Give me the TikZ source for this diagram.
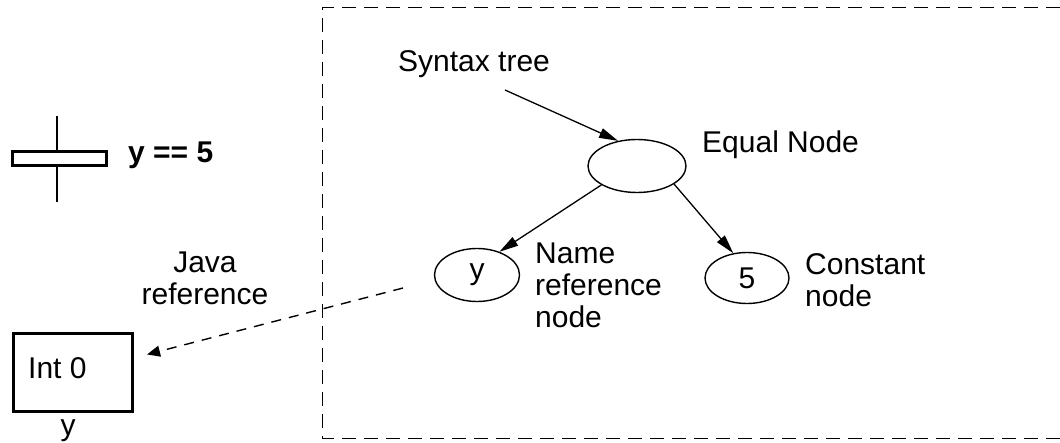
\documentclass[tikz,border=0pt]{standalone}
\usepackage{fontspec}
\setmainfont{Liberation Sans}
\usetikzlibrary{arrows.meta,shapes.geometric}

\tikzset{
  txt/.style={inner sep=0pt, font=\fontsize{30}{32}\selectfont},
  treenode/.style={draw, ellipse, line width=1.4pt, inner sep=0pt,
                   font=\fontsize{30}{32}\selectfont},
  heavybox/.style={draw, rectangle, line width=3pt, inner sep=0pt},
  link/.style={line width=1.3pt, -{Triangle[length=19pt,width=10pt]}},
  reflink/.style={line width=1.4pt, dash pattern=on 10pt off 8pt,
                  -{Triangle[length=13pt,width=11pt]}},
  frame/.style={line width=1pt, dash pattern=on 14pt off 8pt}
}

\begin{document}
\begin{tikzpicture}[x=1pt, y=-1pt]
\useasboundingbox (0,0) rectangle (1060,443);

% dashed boundary of the syntax tree region (open to the right)
\coordinate (frTR) at (1060,8);
\coordinate (frTL) at (322,8);
\coordinate (frBL) at (322,438);
\coordinate (frBR) at (1060,438);
\draw[frame] (frTR) -- (frTL) -- (frBL) -- (frBR);

% transition bar with its guard
\coordinate (barTop) at (57,116);
\coordinate (barBot) at (57,202);
\draw[line width=1.4pt] (barTop) -- (barBot);
\node[heavybox, fill=white, minimum width=94pt, minimum height=14pt] (trans) at (59,159) {};
\node[txt, anchor=base west, font=\fontsize{30}{32}\selectfont\bfseries] (guard) at (128,163) {y == 5};

% variable cell
\node[heavybox, minimum width=119pt, minimum height=77pt] (cell) at (72.5,372.5) {};
\node[txt, anchor=base west] (cellval) at (28,378) {Int 0};
\node[txt, anchor=base] (cellname) at (68,435) {y};

% syntax tree
\node[treenode, minimum width=98pt, minimum height=53pt] (eq) at (637,166) {};
\node[treenode, minimum width=85pt, minimum height=53pt] (yn) at (477,275) {y};
\node[treenode, minimum width=84pt, minimum height=51pt] (cn) at (747,278) {5};

% labels (multi-line labels are placed by the baseline of their last line)
\node[txt, anchor=base west] (stlabel) at (398,72) {Syntax tree};
\node[txt, anchor=base west] (eqlabel) at (702,153) {Equal Node};
\node[txt, anchor=base west, align=left] (ynlabel) at (535,328) {Name\\reference\\node};
\node[txt, anchor=base west, align=left] (cnlabel) at (805,307) {Constant\\node};
\node[txt, anchor=base, align=center] (javalabel) at (205,305) {Java\\reference};

% connectors
\coordinate (stFrom) at (505,90);
\draw[link] (stFrom) -- (eq.127);
\draw[link] (eq.208) -- (yn.46);
\draw[link] (eq.334) -- (cn.119);
\coordinate (refFrom) at (403,288);
\draw[reflink, shorten >=14pt] (refFrom) -- ([yshift=14.5pt]cell.east);
\end{tikzpicture}
\end{document}
